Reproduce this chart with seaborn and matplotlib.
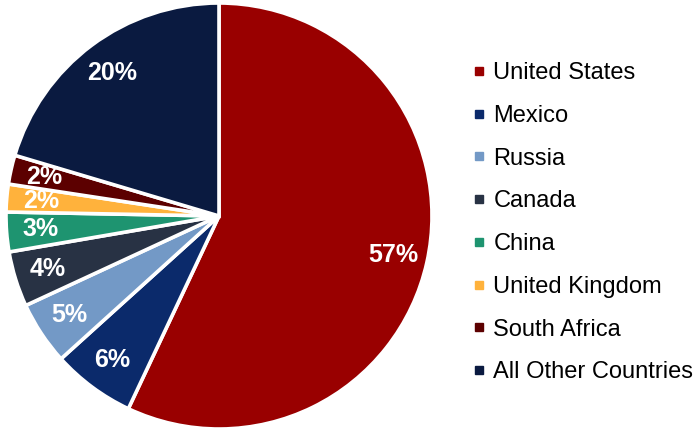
import matplotlib
matplotlib.use("Agg")
import matplotlib.pyplot as plt
from matplotlib.lines import Line2D
import seaborn as sns

# Share of total by country
countries = ["United States", "Mexico", "Russia", "Canada", "China",
             "United Kingdom", "South Africa", "All Other Countries"]
shares = [57.0, 6.3, 4.8, 4.2, 3.0, 2.1, 2.2, 20.4]
colors = ["#990000", "#0B2A6B", "#7399C6", "#283244", "#1E9470",
          "#FFB23C", "#5C0000", "#0A1A40"]

sns.set_theme(style="white")
plt.rcParams["font.family"] = ["Liberation Sans", "DejaVu Sans"]

fig = plt.figure(figsize=(6.94, 4.30), dpi=100)
ax = fig.add_axes([6 / 694, 1 / 430, 426 / 694, 426 / 430])

wedges, texts, autotexts = ax.pie(
    shares,
    colors=colors,
    startangle=90,
    counterclock=False,
    radius=1.0,
    autopct=lambda p: f"{p:.0f}%",
    pctdistance=0.84,
    wedgeprops=dict(edgecolor="white", linewidth=2.6),
    textprops=dict(color="white", fontsize=18, fontweight="bold"),
)
ax.set_xlim(-1, 1)
ax.set_ylim(-1, 1)
ax.set_aspect("equal")
ax.axis("off")

handles = [Line2D([0], [0], marker="s", linestyle="none", markersize=5.5,
                  markerfacecolor=c, markeredgecolor=c) for c in colors]
fig.legend(handles, countries, loc="upper left",
           bbox_to_anchor=(472 / 694, 1 - 62 / 430),
           frameon=False, fontsize=17, labelcolor="black",
           handlelength=0.6, handletextpad=0.3,
           labelspacing=0.88, borderaxespad=0, borderpad=0)

fig.savefig("out.png", dpi=100, facecolor="white")
